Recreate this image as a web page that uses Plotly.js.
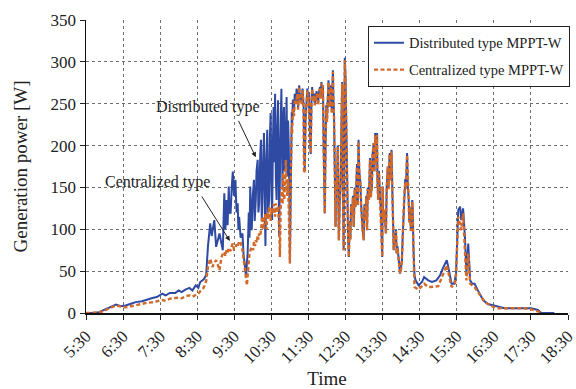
<!DOCTYPE html>
<html>
<head>
<meta charset="utf-8">
<script src="https://cdn.plot.ly/plotly-3.0.1.min.js"></script>
<style>
  html, body { margin: 0; padding: 0; background: #ffffff; }
  #chart { width: 576px; height: 389px; }
</style>
</head>
<body>
<div id="chart"></div>
<script>
// Time of day in decimal hours, generation power in W.
// Morning: the two MPPT types differ clearly.
const timeMorningDistributed = [
  5.50, 5.67, 5.85, 6.01, 6.14, 6.31, 6.44, 6.57, 6.71, 6.84,
  7.01, 7.13, 7.29, 7.41, 7.56, 7.65, 7.76, 7.91, 8.00, 8.08,
  8.18, 8.29, 8.37, 8.46, 8.53, 8.58, 8.67, 8.74, 8.79, 8.85,
  8.89, 8.96, 9.01, 9.10, 9.19, 9.21, 9.23, 9.26, 9.29, 9.32,
  9.35, 9.37, 9.40, 9.43, 9.46, 9.49, 9.53, 9.56, 9.59, 9.61,
  9.63, 9.67, 9.72, 9.75, 9.77, 9.80, 9.82, 9.84, 9.86, 9.89,
  9.91, 9.93, 9.95, 9.97, 10.00, 10.03, 10.05, 10.08, 10.10, 10.13,
  10.15, 10.17, 10.20, 10.22, 10.24, 10.26, 10.28, 10.30, 10.32, 10.34,
  10.36, 10.39, 10.41, 10.44, 10.46, 10.48, 10.50, 10.52, 10.54, 10.56,
  10.58, 10.60, 10.62, 10.64, 10.66, 10.68, 10.70, 10.71, 10.74, 10.77,
  10.79, 10.80, 10.82, 10.84, 10.86, 10.89, 10.91, 10.93, 10.95, 10.97,
  10.99, 11.00
];
const powerMorningDistributed = [
  0, 0, 1, 4, 7, 10, 8, 9, 11, 13,
  14, 16, 18, 19, 23, 21, 24, 24, 27, 25,
  28, 30, 27, 33, 30, 37, 40, 45, 80, 107,
  92, 111, 79, 95, 75, 110, 143, 100, 135, 105,
  151, 120, 119, 150, 169, 140, 159, 120, 131, 100,
  115, 90, 95, 70, 63, 50, 43, 60, 72, 120,
  90, 151, 110, 99, 140, 159, 110, 135, 170, 183,
  120, 131, 190, 207, 110, 151, 200, 215, 130, 80,
  180, 219, 120, 135, 210, 239, 160, 111, 200, 246,
  180, 262, 160, 135, 220, 254, 150, 91, 200, 268,
  190, 150, 230, 246, 170, 207, 258, 163, 230, 200,
  120, 60
];
const timeMorningCentralized = [
  5.50, 5.67, 5.85, 6.01, 6.14, 6.31, 6.44, 6.57, 6.71, 6.84,
  7.01, 7.13, 7.29, 7.41, 7.56, 7.65, 7.76, 7.91, 8.00, 8.08,
  8.18, 8.29, 8.37, 8.46, 8.53, 8.58, 8.67, 8.74, 8.79, 8.85,
  8.91, 8.96, 9.01, 9.06, 9.10, 9.15, 9.19, 9.23, 9.26, 9.29,
  9.32, 9.35, 9.40, 9.43, 9.46, 9.49, 9.53, 9.56, 9.59, 9.63,
  9.68, 9.72, 9.75, 9.77, 9.80, 9.82, 9.84, 9.86, 9.88, 9.91,
  9.95, 9.99, 10.01, 10.03, 10.06, 10.08, 10.11, 10.13, 10.15, 10.17,
  10.20, 10.22, 10.24, 10.26, 10.28, 10.30, 10.33, 10.35, 10.37, 10.39,
  10.41, 10.44, 10.46, 10.48, 10.51, 10.53, 10.56, 10.58, 10.60, 10.62,
  10.65, 10.68, 10.70, 10.72, 10.73, 10.75, 10.78, 10.80, 10.82, 10.85,
  10.87, 10.89, 10.91, 10.93, 10.95, 10.96, 10.98, 11.00
];
const powerMorningCentralized = [
  0, 0, 0.5, 3, 6, 8.7, 7.5, 6.8, 8, 9.5,
  11, 12, 12.8, 14, 15.5, 14.5, 17, 18, 18.3, 17.5,
  20, 21, 19.5, 21.5, 23, 26, 30, 38, 55, 65,
  55, 60, 63, 57, 51, 66, 71, 73, 68, 75,
  72, 78, 74, 80, 83, 76, 77, 82, 79, 86,
  83, 75, 65, 55, 45, 40, 33, 45, 55, 71,
  77, 79, 75, 85, 80, 87, 84, 93, 88, 95,
  92, 100, 108, 115, 100, 105, 118, 111, 100, 120,
  112, 127, 118, 110, 125, 119, 130, 125, 115, 131,
  120, 128, 115, 90, 67, 125, 150, 130, 167, 135,
  160, 183, 150, 140, 160, 135, 90, 59
];

// Midday: both types track almost the same power.
const timeMidday = [
  11.02, 11.03, 11.05, 11.06, 11.08, 11.11, 11.13, 11.16, 11.18, 11.20,
  11.22, 11.25, 11.27, 11.30, 11.32, 11.34, 11.36, 11.37, 11.38, 11.40,
  11.42, 11.44, 11.45, 11.47, 11.49, 11.51, 11.53, 11.56, 11.58, 11.60,
  11.62, 11.65, 11.67, 11.70, 11.72, 11.73, 11.76, 11.78, 11.81, 11.83,
  11.85, 11.87, 11.89, 11.91, 11.92, 11.94, 11.96, 11.98, 12.00, 12.02,
  12.04, 12.06, 12.07, 12.09, 12.11, 12.13, 12.16, 12.17, 12.19, 12.21,
  12.23, 12.25, 12.27, 12.29, 12.30, 12.32, 12.34, 12.37, 12.39, 12.41,
  12.43, 12.45, 12.47, 12.48, 12.50, 12.51, 12.53, 12.55, 12.57, 12.59,
  12.61, 12.63, 12.65, 12.68, 12.70, 12.72, 12.75, 12.77, 12.79, 12.81,
  12.83, 12.85, 12.87, 12.90, 12.92, 12.94, 12.96, 12.99, 13.01, 13.04,
  13.06, 13.08, 13.10, 13.13, 13.15, 13.16, 13.18, 13.21, 13.23, 13.26,
  13.28, 13.30, 13.32, 13.35, 13.36, 13.38, 13.40, 13.41, 13.43, 13.45,
  13.47, 13.49, 13.50, 13.52, 13.55, 13.57, 13.59, 13.61, 13.64, 13.66,
  13.69, 13.71, 13.74, 13.76, 13.77, 13.79, 13.80, 13.82, 13.84, 13.86,
  13.88, 13.90, 13.93, 13.95, 13.97, 14.00, 14.02, 14.04, 14.06, 14.08,
  14.11, 14.13, 14.16, 14.18, 14.20, 14.22, 14.24, 14.26, 14.28, 14.30,
  14.31, 14.33, 14.36
];
const powerMiddayDistributed = [
  140, 180, 240, 225, 255, 240, 262, 252, 268, 264,
  245, 272, 255, 262, 250, 268, 255, 245, 200, 170,
  230, 250, 265, 268, 255, 264, 230, 190, 250, 270,
  255, 262, 250, 258, 265, 260, 250, 262, 270, 258,
  276, 260, 272, 200, 140, 119, 200, 248, 230, 265,
  278, 250, 246, 260, 272, 240, 290, 260, 235, 170,
  103, 160, 150, 200, 120, 87, 130, 160, 230, 276,
  150, 75, 200, 305, 280, 246, 180, 127, 90, 67,
  110, 88, 130, 119, 140, 103, 150, 127, 160, 178,
  130, 207, 170, 155, 130, 111, 100, 87, 130, 115,
  140, 99, 150, 135, 170, 185, 140, 151, 190, 203,
  170, 215, 180, 215, 160, 135, 170, 155, 140, 127,
  90, 67, 151, 110, 123, 100, 95, 150, 175, 150,
  191, 160, 195, 150, 123, 90, 75, 95, 83, 100,
  71, 80, 63, 55, 47, 55, 63, 90, 115, 140,
  160, 150, 191, 150, 139, 110, 127, 100, 103, 135,
  125, 80, 45
];
const powerMiddayCentralized = [
  150, 185, 222, 215, 245, 235, 255, 250, 262, 262,
  243, 270, 252, 260, 248, 266, 252, 240, 167, 170,
  228, 243, 262, 266, 252, 258, 228, 191, 248, 268,
  253, 260, 248, 256, 262, 258, 248, 260, 268, 256,
  274, 258, 272, 198, 138, 119, 198, 246, 228, 263,
  276, 248, 246, 258, 270, 238, 288, 258, 232, 168,
  103, 158, 147, 198, 118, 87, 128, 159, 228, 274,
  148, 75, 198, 302, 278, 246, 178, 127, 88, 67,
  108, 87, 128, 119, 138, 103, 148, 127, 158, 175,
  128, 205, 168, 155, 128, 111, 98, 87, 128, 111,
  138, 99, 148, 135, 168, 183, 138, 151, 188, 203,
  168, 212, 178, 213, 158, 135, 168, 155, 138, 127,
  88, 67, 151, 108, 123, 98, 95, 148, 175, 148,
  190, 158, 193, 148, 123, 88, 75, 93, 83, 98,
  71, 78, 63, 53, 47, 53, 63, 88, 115, 138,
  155, 148, 189, 148, 139, 108, 127, 98, 103, 133,
  123, 78, 31
];

// Afternoon and evening
const timeAfternoonDistributed = [
  14.39, 14.45, 14.47, 14.56, 14.62, 14.73, 14.83, 14.95, 15.05, 15.12,
  15.23, 15.29, 15.36, 15.43, 15.48, 15.54, 15.59, 15.62, 15.67, 15.72,
  15.76, 15.81, 15.86, 15.92, 15.98, 16.07, 16.21, 16.34, 16.53, 16.79,
  17.06, 17.33, 17.51, 17.69, 17.77, 18.13
];
const powerAfternoonDistributed = [
  39, 35, 33, 37, 43, 39, 37, 39, 45, 53,
  63, 51, 35, 35, 47, 123, 127, 111, 125, 91,
  47, 83, 39, 35, 35, 27, 15.5, 10.7, 8.4, 5.6,
  5.6, 5.6, 5.6, 3.6, 0.4, 0
];
const timeAfternoonCentralized = [
  14.47, 14.56, 14.62, 14.73, 14.78, 15.00, 15.12, 15.23, 15.29, 15.36,
  15.45, 15.48, 15.54, 15.62, 15.67, 15.72, 15.76, 15.81, 15.86, 15.98,
  16.12, 16.26, 16.43, 16.62, 16.97, 17.33, 17.51, 17.69, 17.82
];
const powerAfternoonCentralized = [
  28, 32, 35, 31, 31, 32, 45, 57, 45, 31,
  35, 45, 115, 99, 119, 79, 39, 71, 35, 31,
  21.5, 12.8, 8.4, 5.6, 5.6, 5.6, 4.4, 1.6, 0
];

const timeTickLabels = ['5:30', '6:30', '7:30', '8:30', '9:30', '10:30', '11:30',
                        '12:30', '13:30', '14:30', '15:30', '16:30', '17:30', '18:30'];
const seriesNames = ['Distributed type MPPT-W', 'Centralized type MPPT-W'];
const calloutLabels = ['Distributed type', 'Centralized type'];

function toHours(label) {
  const parts = label.split(':');
  return Number(parts[0]) + Number(parts[1]) / 60;
}
const timeTickVals = timeTickLabels.map(toHours);

const timeDistributed = timeMorningDistributed.concat(timeMidday, timeAfternoonDistributed);
const powerDistributed = powerMorningDistributed.concat(powerMiddayDistributed, powerAfternoonDistributed);
const timeCentralized = timeMorningCentralized.concat(timeMidday, timeAfternoonCentralized);
const powerCentralized = powerMorningCentralized.concat(powerMiddayCentralized, powerAfternoonCentralized);

const serif = '"Liberation Serif", "Times New Roman", Times, serif';
const ink = '#222222';
const blue = '#2f4aa3';
const orange = '#d0692a';

const traces = [
  {
    x: timeDistributed, y: powerDistributed, type: 'scatter', mode: 'lines',
    name: seriesNames[0], legendgroup: 'distributed',
    line: { color: blue, width: 2 }
  },
  {
    x: timeCentralized, y: powerCentralized, type: 'scatter', mode: 'lines',
    name: seriesNames[1], legendgroup: 'centralized',
    line: { color: orange, width: 2.4, dash: '4px,2.5px' }
  }
];

const gridStyle = { showgrid: true, gridcolor: '#6e6e6e', gridwidth: 1, griddash: '3px,3px' };

const layout = {
  width: 576, height: 389,
  margin: { l: 86, r: 6, t: 20, b: 76 },
  paper_bgcolor: '#ffffff', plot_bgcolor: '#ffffff',
  font: { family: serif, color: ink, size: 17 },
  showlegend: true,
  legend: {
    x: 0.585, y: 0.98, xanchor: 'left', yanchor: 'top',
    bgcolor: '#ffffff', bordercolor: ink, borderwidth: 1,
    font: { family: serif, size: 14.5, color: ink },
    traceorder: 'grouped', tracegroupgap: 5
  },
  xaxis: Object.assign({
    range: [5.5, 18.5],
    tickmode: 'array', tickvals: timeTickVals, ticktext: timeTickLabels,
    tickangle: -45, ticks: 'outside', ticklen: 5, tickcolor: ink,
    ticklabeloverflow: 'allow',
    tickfont: { family: serif, size: 17, color: ink },
    showline: true, linecolor: '#111111', linewidth: 1.5, mirror: false,
    zeroline: false,
    title: { text: 'Time', font: { family: serif, size: 19, color: ink }, standoff: 7 }
  }, gridStyle),
  yaxis: Object.assign({
    range: [0, 350], dtick: 50, tick0: 0,
    ticks: 'outside', ticklen: 5, tickcolor: ink,
    tickfont: { family: serif, size: 17, color: ink },
    showline: true, linecolor: '#111111', linewidth: 1.5, mirror: false,
    zeroline: false,
    title: { text: 'Generation power [W]', font: { family: serif, size: 19, color: ink }, standoff: 18 }
  }, gridStyle),
  annotations: [
    { x: 8.78, y: 246, xref: 'x', yref: 'y', text: calloutLabels[0], showarrow: false,
      font: { family: serif, size: 16, color: ink } },
    { x: 7.44, y: 156, xref: 'x', yref: 'y', text: calloutLabels[1], showarrow: false,
      font: { family: serif, size: 16, color: ink } },
    { x: 10.08, y: 186, xref: 'x', yref: 'y', text: '', showarrow: true,
      ax: -18, ay: -38, arrowhead: 2, arrowsize: 1, arrowwidth: 1, arrowcolor: ink },
    { x: 9.38, y: 86, xref: 'x', yref: 'y', text: '', showarrow: true,
      ax: -29, ay: -46, arrowhead: 2, arrowsize: 1, arrowwidth: 1, arrowcolor: ink }
  ]
};

Plotly.newPlot('chart', traces, layout, { displayModeBar: false, staticPlot: true });
</script>
</body>
</html>
